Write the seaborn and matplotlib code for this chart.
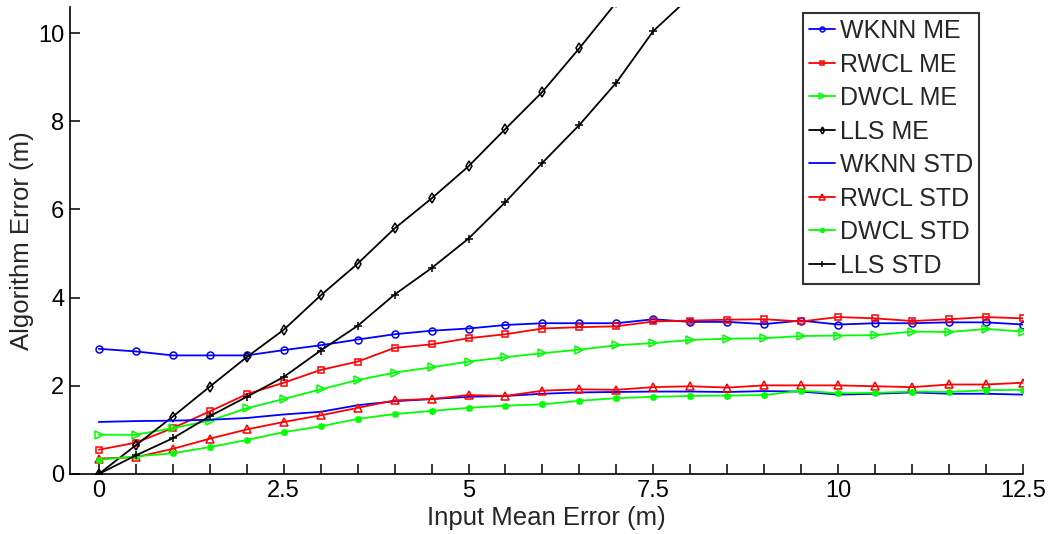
import numpy as np
import pandas as pd
import matplotlib
matplotlib.use("Agg")
import matplotlib.pyplot as plt
import seaborn as sns

x_all = [0, 0.5, 1, 1.5, 2, 2.5, 3, 3.5, 4, 4.5, 5, 5.5, 6, 6.5, 7, 7.5, 8,
         8.5, 9, 9.5, 10, 10.5, 11, 11.5, 12, 12.5]

wknn_me = [2.84, 2.78, 2.69, 2.69, 2.69, 2.81, 2.92, 3.05, 3.17, 3.25, 3.30, 3.38, 3.42,
           3.42, 3.42, 3.51, 3.45, 3.45, 3.40, 3.48, 3.39, 3.42, 3.42, 3.44, 3.44, 3.39]
rwcl_me = [0.55, 0.71, 1.04, 1.42, 1.81, 2.07, 2.36, 2.55, 2.86, 2.94, 3.08, 3.17, 3.30,
           3.33, 3.35, 3.46, 3.48, 3.50, 3.51, 3.46, 3.56, 3.53, 3.47, 3.51, 3.56, 3.53]
dwcl_me = [0.89, 0.89, 1.04, 1.21, 1.49, 1.70, 1.92, 2.13, 2.30, 2.42, 2.55, 2.65, 2.74,
           2.82, 2.92, 2.97, 3.04, 3.07, 3.08, 3.13, 3.14, 3.15, 3.23, 3.22, 3.29, 3.23]
lls_me = [0.0, 0.65, 1.30, 1.98, 2.65, 3.27, 4.05, 4.77, 5.57, 6.25, 6.98, 7.83, 8.67,
          9.66, 10.70]
wknn_std = [1.18, 1.20, 1.21, 1.23, 1.27, 1.35, 1.41, 1.56, 1.65, 1.70, 1.75, 1.77, 1.82,
            1.85, 1.86, 1.87, 1.87, 1.86, 1.88, 1.87, 1.80, 1.82, 1.85, 1.82, 1.82, 1.80]
rwcl_std = [0.35, 0.38, 0.57, 0.80, 1.01, 1.18, 1.33, 1.50, 1.67, 1.70, 1.79, 1.77, 1.89,
            1.92, 1.91, 1.97, 1.99, 1.96, 2.01, 2.01, 2.01, 1.99, 1.97, 2.03, 2.03, 2.07]
dwcl_std = [0.32, 0.40, 0.47, 0.61, 0.77, 0.95, 1.08, 1.25, 1.36, 1.43, 1.50, 1.55, 1.58,
            1.66, 1.72, 1.75, 1.77, 1.78, 1.79, 1.89, 1.83, 1.84, 1.87, 1.86, 1.90, 1.91]
lls_std = [0.0, 0.42, 0.81, 1.31, 1.75, 2.20, 2.80, 3.36, 4.07, 4.67, 5.34, 6.17, 7.06,
           7.92, 8.88, 10.05, 10.83]

labels = ["WKNN ME", "RWCL ME", "DWCL ME", "LLS ME",
          "WKNN STD", "RWCL STD", "DWCL STD", "LLS STD"]
series = [wknn_me, rwcl_me, dwcl_me, lls_me, wknn_std, rwcl_std, dwcl_std, lls_std]
colors = ["#0000ff", "#ff0000", "#00ff00", "#000000",
          "#0000ff", "#ff0000", "#00ff00", "#000000"]
markers = ["o", "s", ">", "d", None, "^", (8, 2, 0), "+"]
msizes = [5, 5, 6, 5, 0, 6, 5, 6]

sns.set_style("ticks")
plt.rcParams["font.family"] = ["Liberation Sans", "DejaVu Sans"]

fig = plt.figure(figsize=(10.52, 5.34), dpi=100)
ax = fig.add_axes([0.0665, 0.1124, 0.906, 0.875])

for lab, ys, c, m, ms in zip(labels, series, colors, markers, msizes):
    df = pd.DataFrame({"x": x_all[:len(ys)], "y": ys})
    kw = dict(color=c, linewidth=1.3, label=lab)
    if m is not None:
        kw.update(marker=m, markersize=ms, markerfacecolor="none",
                  markeredgecolor=c, markeredgewidth=1.1)
    sns.lineplot(data=df, x="x", y="y", ax=ax, **kw)

ax.set_xlim(-0.39, 12.5)
ax.set_ylim(0, 10.6)
xt = np.arange(0, 12.51, 0.5)
ax.set_xticks(xt)
ax.set_xticklabels([("%g" % v) if abs(v / 2.5 - round(v / 2.5)) < 1e-9 else "" for v in xt])
ax.set_yticks([0, 2, 4, 6, 8, 10])
ax.tick_params(direction="in", length=7, width=1.1, labelsize=17, colors="black", pad=4)
for s in ["left", "bottom"]:
    ax.spines[s].set_linewidth(1.2)
    ax.spines[s].set_color("black")
sns.despine(ax=ax)
ax.set_xlabel("Input Mean Error (m)", fontsize=18.5, labelpad=3)
ax.set_ylabel("Algorithm Error (m)", fontsize=18.5, labelpad=3)

leg = ax.legend(loc="upper right", bbox_to_anchor=(0.954, 0.987), borderaxespad=0,
                fontsize=18, frameon=True, fancybox=False, edgecolor="black",
                handlelength=1.05, handletextpad=0.18, labelspacing=0.38,
                borderpad=0.25, numpoints=1, markerscale=0.7)
leg.get_frame().set_linewidth(1.5)

fig.savefig("out.png", dpi=100)
